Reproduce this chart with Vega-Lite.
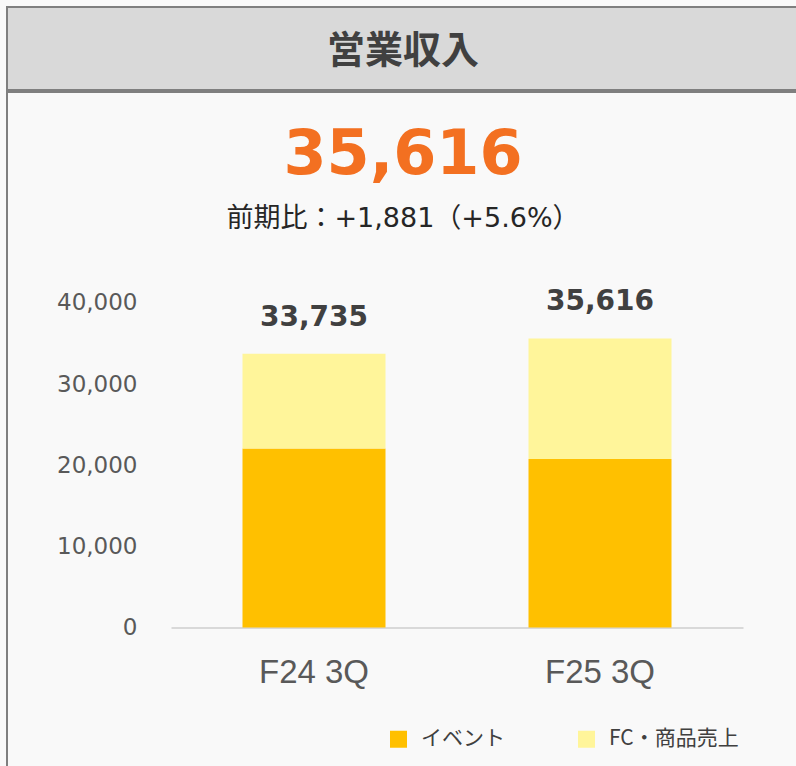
{
  "$schema": "https://vega.github.io/schema/vega-lite/v6.json",
  "background": "#f9f9f9",
  "padding": {"left": 6, "top": 6, "right": 0, "bottom": 0},
  "spacing": 0,
  "datasets": {
    "header": [{"label": "営業収入"}],
    "revenue": [
      {"period": "F24 3Q", "category": "イベント", "value": 22060},
      {"period": "F24 3Q", "category": "FC・商品売上", "value": 11675},
      {"period": "F25 3Q", "category": "イベント", "value": 20750},
      {"period": "F25 3Q", "category": "FC・商品売上", "value": 14866}
    ]
  },
  "vconcat": [
    {
      "width": 792,
      "height": 83,
      "view": {"fill": "#d9d9d9", "stroke": "#7f7f7f", "strokeWidth": 2},
      "data": {"name": "header"},
      "mark": {"type": "text", "font": "Noto Sans CJK JP", "fontWeight": "bold", "fontSize": 38, "color": "#404040", "baseline": "middle", "align": "center", "dy": 3},
      "encoding": {"text": {"field": "label"}}
    },
    {
      "width": 792,
      "height": 680,
      "view": {"fill": "#f9f9f9", "stroke": "#7f7f7f", "strokeWidth": 2},
      "title": {
        "text": "35,616",
        "subtitle": "前期比：+1,881（+5.6%）",
        "orient": "top",
        "anchor": "middle",
        "frame": "group",
        "offset": -141,
        "font": "DejaVu Sans",
        "fontSize": 62,
        "fontWeight": "bold",
        "color": "#F37021",
        "subtitleFont": "DejaVu Sans, Noto Sans CJK JP",
        "subtitleFontSize": 27,
        "subtitleColor": "#262626",
        "subtitlePadding": 19
      },
      "data": {"name": "revenue"},
      "layer": [
        {
          "mark": {"type": "bar"},
          "encoding": {
            "x": {
              "field": "period",
              "type": "nominal",
              "scale": {"range": [164, 736], "paddingInner": 0.5, "paddingOuter": 0.25},
              "axis": {
                "orient": "bottom",
                "offset": -144.5,
                "title": null,
                "labelAngle": 0,
                "domain": true,
                "domainColor": "#d9d9d9",
                "domainWidth": 2,
                "ticks": false,
                "tickSize": 0,
                "grid": false,
                "labelFont": "Liberation Sans",
                "labelFontSize": 33,
                "labelColor": "#595959",
                "labelPadding": 29
              }
            },
            "y": {
              "field": "value",
              "type": "quantitative",
              "stack": "zero",
              "scale": {"domain": [0, 40000], "range": [535.5, 210.9], "nice": false, "zero": true},
              "axis": {
                "orient": "left",
                "offset": -164,
                "title": null,
                "values": [0, 10000, 20000, 30000, 40000],
                "format": ",d",
                "domain": false,
                "ticks": false,
                "tickSize": 0,
                "grid": false,
                "labelFont": "DejaVu Sans",
                "labelFontSize": 23,
                "labelColor": "#595959",
                "labelPadding": 34
              }
            },
            "color": {
              "field": "category",
              "type": "nominal",
              "scale": {"domain": ["イベント", "FC・商品売上"], "range": ["#FFC000", "#FFF59A"]},
              "legend": {
                "title": null,
                "orient": "none",
                "legendX": 381,
                "legendY": 721.5,
                "direction": "horizontal",
                "symbolType": "square",
                "symbolSize": 289,
                "symbolStrokeWidth": 0,
                "labelFont": "Noto Sans CJK JP",
                "labelFontSize": 21,
                "labelColor": "#404040",
                "labelOffset": 12,
                "columnPadding": 71,
                "padding": 0
              }
            }
          }
        },
        {
          "transform": [
            {"aggregate": [{"op": "sum", "field": "value", "as": "total"}], "groupby": ["period"]}
          ],
          "mark": {"type": "text", "font": "DejaVu Sans", "fontWeight": "bold", "fontSize": 28, "color": "#404040", "baseline": "alphabetic", "align": "center", "dy": -28},
          "encoding": {
            "x": {"field": "period", "type": "nominal"},
            "y": {"field": "total", "type": "quantitative"},
            "text": {"field": "total", "type": "quantitative", "format": ","}
          }
        }
      ]
    }
  ]
}
